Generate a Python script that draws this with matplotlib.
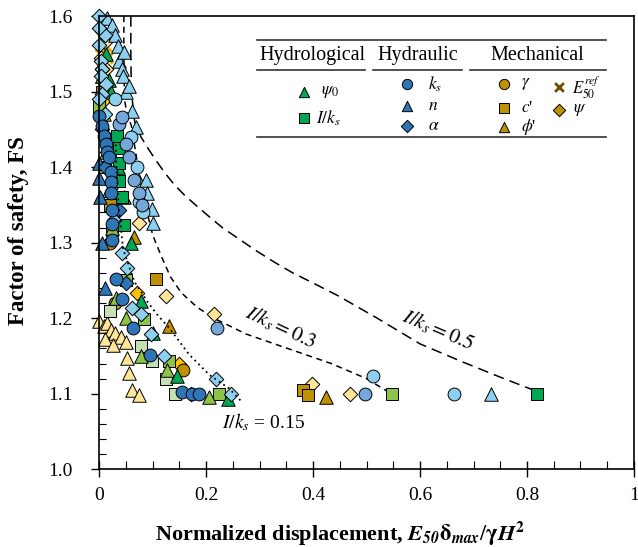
import numpy as np
import matplotlib
matplotlib.use("Agg")
import matplotlib.pyplot as plt

plt.rcParams['font.family'] = 'serif'
plt.rcParams['font.serif'] = ['Liberation Serif', 'STIXGeneral', 'DejaVu Serif']
plt.rcParams['mathtext.fontset'] = 'stix'

# colours (dark / medium / light)
G1, G2, G3 = '#00a651', '#8dc349', '#c5e0b3'
B1, B2, B3 = '#2e75b6', '#76a7da', '#8ccfee'
Y1, Y2, Y3 = '#bf9000', '#ffc000', '#ffe699'

# ---- data: normalized displacement (x) and factor of safety (fs) ----
# hydrological
psi0_g1_x = [0.012, 0.019, 0.022, 0.03, 0.035, 0.047, 0.06, 0.078, 0.10, 0.146, 0.24]
psi0_g1_fs = [1.55, 1.515, 1.50, 1.44, 1.40, 1.36, 1.30, 1.223, 1.18, 1.123, 1.093]
psi0_g2_x = [0.005, 0.008, 0.012, 0.018, 0.024, 0.032, 0.05, 0.078, 0.127, 0.206]
psi0_g2_fs = [1.52, 1.47, 1.42, 1.37, 1.32, 1.227, 1.20, 1.15, 1.132, 1.096]
iks_g1_x = [0.034, 0.036, 0.037, 0.037, 0.043, 0.047, 0.818]
iks_g1_fs = [1.441, 1.425, 1.406, 1.381, 1.36, 1.323, 1.10]
iks_g2_x = [0.0, 0.01, 0.024, 0.05, 0.084, 0.131, 0.224, 0.548]
iks_g2_fs = [1.48, 1.40, 1.317, 1.25, 1.199, 1.143, 1.10, 1.10]
iks_g3_x = [0.02, 0.078, 0.099, 0.125, 0.142]
iks_g3_fs = [1.21, 1.163, 1.143, 1.119, 1.10]

# hydraulic
ks_b1_x = [0.0, 0.005, 0.009, 0.012, 0.015, 0.019, 0.022, 0.022, 0.022, 0.024, 0.024, 0.024,
           0.032, 0.043, 0.063, 0.095, 0.155, 0.174, 0.187]
ks_b1_fs = [1.468, 1.455, 1.441, 1.43, 1.42, 1.414, 1.393, 1.38, 1.366, 1.343, 1.325, 1.303,
            1.252, 1.226, 1.187, 1.151, 1.103, 1.10, 1.10]
ks_b2_x = [0.037, 0.043, 0.05, 0.056, 0.065, 0.075, 0.08, 0.22, 0.497]
ks_b2_fs = [1.457, 1.466, 1.43, 1.414, 1.383, 1.366, 1.35, 1.187, 1.10]
ks_b3_x = [0.03, 0.06, 0.07, 0.075, 0.082, 0.512, 0.664]
ks_b3_fs = [1.49, 1.44, 1.40, 1.354, 1.34, 1.123, 1.10]
n_b3_x = [0.015, 0.024, 0.03, 0.035, 0.037, 0.043, 0.045, 0.047, 0.05, 0.056, 0.062, 0.069,
          0.07, 0.088, 0.09, 0.098, 0.101, 0.733]
n_b3_fs = [1.597, 1.588, 1.575, 1.56, 1.54, 1.53, 1.52, 1.553, 1.50, 1.508, 1.474, 1.453,
           1.387, 1.383, 1.366, 1.345, 1.326, 1.10]
n_b1_x = [0.0, 0.0, 0.002, 0.005, 0.01]
n_b1_fs = [1.406, 1.385, 1.36, 1.30, 1.24]
alpha_b3_x = [0.0, 0.01, 0.0, 0.0, 0.003, 0.005, 0.004, 0.012, 0.006, 0.0, 0.01, 0.028,
              0.043, 0.052, 0.062, 0.078, 0.097, 0.121, 0.218, 0.246]
alpha_b3_fs = [1.60, 1.575, 1.584, 1.561, 1.54, 1.53, 1.52, 1.51, 1.497, 1.49, 1.47, 1.33,
               1.286, 1.267, 1.214, 1.206, 1.179, 1.15, 1.12, 1.10]
alpha_b1_x = [0.005, 0.01, 0.037, 0.05, 0.172]
alpha_b1_fs = [1.45, 1.40, 1.343, 1.247, 1.10]

# mechanical
gamma_y1_x = [0.01, 0.02, 0.03, 0.157]
gamma_y1_fs = [1.44, 1.30, 1.22, 1.132]
cp_y1_x = [0.005, 0.02, 0.106, 0.381, 0.39]
cp_y1_fs = [1.50, 1.35, 1.252, 1.105, 1.098]
phi_y1_x = [0.005, 0.065, 0.131, 0.424]
phi_y1_fs = [1.52, 1.307, 1.19, 1.096]
phi_y3_x = [0.0, 0.008, 0.015, 0.022, 0.03, 0.04, 0.05, 0.01, 0.025, 0.052, 0.056, 0.062, 0.075]
phi_y3_fs = [1.196, 1.19, 1.194, 1.185, 1.18, 1.175, 1.168, 1.172, 1.165, 1.147, 1.127, 1.105, 1.098]
e50_y2_x = [0.002, 0.005, 0.008, 0.01, 0.012, 0.015]
e50_y2_fs = [1.55, 1.53, 1.515, 1.50, 1.56, 1.545]
psi_y3_x = [0.005, 0.01, 0.003, 0.012, 0.015, 0.075, 0.125, 0.215, 0.398, 0.469]
psi_y3_fs = [1.58, 1.565, 1.545, 1.53, 1.50, 1.326, 1.23, 1.205, 1.113, 1.10]
psi_y2_x = [0.005, 0.01, 0.071, 0.15]
psi_y2_fs = [1.53, 1.49, 1.234, 1.14]

# I/ks trend curves
c05_x = [0.059, 0.059, 0.060, 0.0663, 0.078, 0.091, 0.105, 0.122, 0.14, 0.16, 0.18, 0.203,
         0.23, 0.259, 0.292, 0.328, 0.362, 0.396, 0.446, 0.52, 0.6, 0.68, 0.75, 0.83]
c05_fs = [1.60, 1.55, 1.50, 1.46, 1.44, 1.425, 1.41, 1.393, 1.377, 1.3625, 1.35, 1.336,
          1.32, 1.306, 1.29, 1.274, 1.26, 1.248, 1.23, 1.20, 1.166, 1.142, 1.122, 1.10]
c03_x = [0.046, 0.046, 0.047, 0.052, 0.06, 0.068, 0.077, 0.086, 0.10, 0.1155, 0.133, 0.153,
         0.184, 0.22, 0.275, 0.34, 0.434, 0.50, 0.558]
c03_fs = [1.60, 1.55, 1.49, 1.47, 1.455, 1.42, 1.38, 1.35, 1.31, 1.283, 1.255, 1.234,
          1.214, 1.198, 1.179, 1.163, 1.14, 1.12, 1.095]
c015_x = [0.031, 0.032, 0.036, 0.0445, 0.055, 0.066, 0.078, 0.09, 0.108, 0.131, 0.168,
          0.206, 0.243, 0.267]
c015_fs = [1.43, 1.40, 1.35, 1.292, 1.27, 1.248, 1.235, 1.222, 1.205, 1.187, 1.152,
           1.125, 1.107, 1.089]

xticks = [0, 0.2, 0.4, 0.6, 0.8, 1]
xtick_labels = ['0', '0.2', '0.4', '0.6', '0.8', '1']
yticks = [1.0, 1.1, 1.2, 1.3, 1.4, 1.5, 1.6]

series = [
    (psi_y3_x, psi_y3_fs, 'D', Y3, 55),
    (psi_y2_x, psi_y2_fs, 'D', Y2, 55),
    (phi_y3_x, phi_y3_fs, '^', Y3, 95),
    (phi_y1_x, phi_y1_fs, '^', Y1, 95),
    (cp_y1_x, cp_y1_fs, 's', Y1, 75),
    (gamma_y1_x, gamma_y1_fs, 'o', Y1, 85),
    (iks_g3_x, iks_g3_fs, 's', G3, 75),
    (iks_g2_x, iks_g2_fs, 's', G2, 75),
    (psi0_g2_x, psi0_g2_fs, '^', G2, 95),
    (psi0_g1_x, psi0_g1_fs, '^', G1, 95),
    (iks_g1_x, iks_g1_fs, 's', G1, 75),
    (n_b3_x, n_b3_fs, '^', B3, 95),
    (ks_b3_x, ks_b3_fs, 'o', B3, 85),
    (ks_b2_x, ks_b2_fs, 'o', B2, 85),
    (alpha_b3_x, alpha_b3_fs, 'D', B3, 55),
    (n_b1_x, n_b1_fs, '^', B1, 95),
    (alpha_b1_x, alpha_b1_fs, 'D', B1, 55),
    (ks_b1_x, ks_b1_fs, 'o', B1, 85),
]

fig = plt.figure(figsize=(6.38, 5.47), dpi=100)
ax = fig.add_axes([0.1556, 0.1420, 0.838, 0.8287])

ax.plot(c05_x, c05_fs, color='black', lw=1.1, ls=(0, (7, 4)), zorder=1)
ax.plot(c03_x, c03_fs, color='black', lw=1.1, ls=(0, (4, 3)), zorder=1)

# E50 crosses sit underneath the other markers
ax.scatter(e50_y2_x, e50_y2_fs, marker='x', s=55, color='#f0a500', linewidth=2, zorder=2,
           clip_on=False)
for xs, ys, m, c, s in series:
    ax.scatter(xs, ys, marker=m, s=s, facecolor=c, edgecolor='black', linewidth=0.7,
               zorder=2, clip_on=False)

# dotted line drawn on top of the markers, as in the source figure
ax.plot(c015_x, c015_fs, color='black', lw=1.3, ls=(0, (1, 2)), zorder=3)

ax.text(0.34, 1.188, r'$\mathit{I/k_s = 0.3}$', fontsize=15, rotation=-25,
        ha='center', va='center')
ax.text(0.633, 1.184, r'$\mathit{I/k_s = 0.5}$', fontsize=15, rotation=-23,
        ha='center', va='center')
ax.text(0.229, 1.062, r'$I/k_s$ = 0.15', fontsize=14, ha='left', va='center')

ax.set_xlim(0, 1)
ax.set_ylim(1.0, 1.6)
ax.set_xticks(xticks)
ax.set_xticklabels(xtick_labels)
ax.set_yticks(yticks)
ax.set_yticklabels(['%.1f' % v for v in yticks])
ax.set_xticks(np.arange(0, 1.001, 0.05), minor=True)
ax.set_yticks(np.arange(1.0, 1.601, 0.02), minor=True)
ax.tick_params(axis='x', which='major', direction='inout', length=12, width=1, labelsize=14, pad=7)
ax.tick_params(axis='x', which='minor', direction='in', length=6, width=0.8)
ax.tick_params(axis='y', which='major', direction='out', length=6, width=1, labelsize=14, pad=13)
ax.tick_params(axis='y', which='minor', direction='in', length=5, width=0.8)
for sp in ax.spines.values():
    sp.set_linewidth(1.2)

ax.set_ylabel('Factor of safety, FS', fontsize=16.5, fontweight='bold')
ax.yaxis.set_label_coords(-0.131, 0.526)
ax.set_xlabel(r'Normalized displacement, $\mathbfit{E}_{\mathbfit{50}}\mathbf{\delta}_{\mathbfit{max}}/\mathbf{\gamma}\mathbfit{H}^{\mathbf{2}}$',
              fontsize=16, fontweight='bold')
ax.xaxis.set_label_coords(0.45, -0.112)

# custom legend table
tr = ax.transAxes
ax.plot([0.295, 0.948], [0.9465, 0.9465], color='#333333', lw=1.2, transform=tr)
ax.plot([0.295, 0.948], [0.733, 0.733], color='#333333', lw=1.2, transform=tr)
for a, b in [(0.295, 0.497), (0.512, 0.678), (0.693, 0.948)]:
    ax.plot([a, b], [0.88, 0.88], color='#333333', lw=1.2, transform=tr)
for txt, cx in [('Hydrological', 0.398), ('Hydraulic', 0.596), ('Mechanical', 0.82)]:
    ax.text(cx, 0.913, txt, transform=tr, ha='center', va='center', fontsize=14.5)

leg_items = [
    (0.383, 0.833, '^', G1, r'$\psi_0$', 0.415),
    (0.383, 0.775, 's', G1, r'$I/k_s$', 0.406),
    (0.576, 0.849, 'o', B1, r'$k_s$', 0.615),
    (0.576, 0.802, '^', B1, r'$n$', 0.615),
    (0.576, 0.757, 'D', B1, r'$\alpha$', 0.615),
    (0.757, 0.849, 'o', Y1, r'$\gamma$', 0.789),
    (0.757, 0.798, 's', Y1, r"$c$'", 0.789),
    (0.757, 0.755, '^', Y1, r"$\phi$'", 0.789),
    (0.86, 0.793, 'D', Y1, r'$\psi$', 0.886),
]
for mx, my, m, c, lab, tx in leg_items:
    ax.scatter([mx], [my], marker=m, s=55 if m != 'D' else 40, facecolor=c,
               edgecolor='black', linewidth=0.7, transform=tr, zorder=4)
    ax.text(tx, my, lab, transform=tr, ha='left', va='center', fontsize=12.5)
ax.scatter([0.86], [0.843], marker='x', s=40, color='#6b4e00', linewidth=2, transform=tr, zorder=4)
ax.text(0.884, 0.842, r'$E_{50}^{ref}$', transform=tr, ha='left', va='center', fontsize=12)

fig.savefig('out.png', dpi=100)
